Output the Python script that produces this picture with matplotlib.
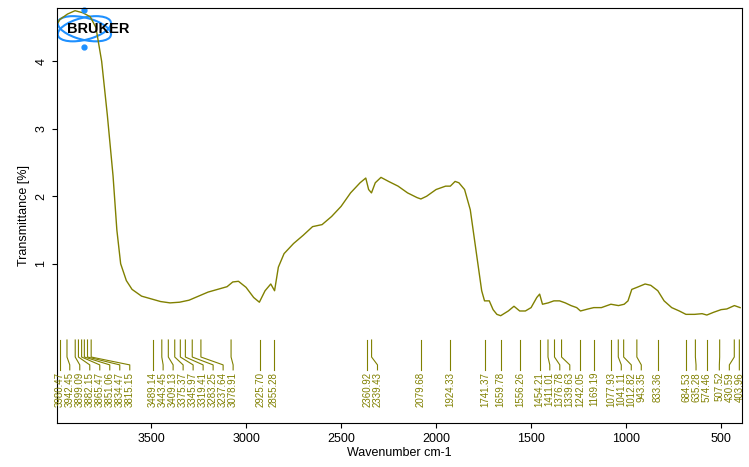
import matplotlib
matplotlib.use('Agg')
import matplotlib.pyplot as plt
import matplotlib.transforms as mtransforms
from matplotlib.patches import Ellipse
import numpy as np

# spectrum (wavenumber, transmittance)
wavenumber = [3995, 3980, 3940, 3900, 3860, 3820, 3790, 3760, 3730, 3700, 3680, 3660,
              3630, 3600, 3550, 3500, 3450, 3400, 3350, 3300, 3250, 3200, 3150, 3100,
              3070, 3040, 3000, 2960, 2930, 2900, 2870, 2850, 2830, 2800, 2750, 2700,
              2650, 2600, 2550, 2500, 2450, 2400, 2370, 2355, 2340, 2320, 2290, 2250,
              2200, 2150, 2100, 2080, 2050, 2000, 1950, 1925, 1900, 1880, 1850, 1820,
              1790, 1760, 1745, 1720, 1700, 1680, 1660, 1620, 1590, 1560, 1530, 1500,
              1470, 1455, 1440, 1410, 1380, 1350, 1320, 1290, 1260, 1240, 1200, 1170,
              1130, 1080, 1040, 1010, 990, 970, 943, 900, 870, 833, 800, 760, 720, 685,
              640, 600, 575, 540, 500, 470, 430, 400]
transmittance = [4.55, 4.62, 4.7, 4.75, 4.72, 4.66, 4.5, 4.0, 3.2, 2.3, 1.5, 1.0,
                 0.75, 0.62, 0.52, 0.48, 0.44, 0.42, 0.43, 0.46, 0.52, 0.58, 0.62, 0.66,
                 0.73, 0.74, 0.65, 0.5, 0.43, 0.6, 0.7, 0.6, 0.95, 1.15, 1.3, 1.42,
                 1.55, 1.58, 1.7, 1.85, 2.05, 2.2, 2.27, 2.1, 2.05, 2.2, 2.28, 2.22,
                 2.15, 2.05, 1.98, 1.96, 2.0, 2.1, 2.15, 2.15, 2.22, 2.2, 2.1, 1.8,
                 1.2, 0.6, 0.45, 0.45, 0.32, 0.25, 0.23, 0.3, 0.37, 0.3, 0.3, 0.35,
                 0.5, 0.55, 0.4, 0.42, 0.45, 0.45, 0.42, 0.38, 0.35, 0.3, 0.33, 0.35,
                 0.35, 0.4, 0.38, 0.4, 0.45, 0.62, 0.65, 0.7, 0.68, 0.6, 0.45, 0.35, 0.3, 0.25,
                 0.25, 0.26, 0.24, 0.28, 0.32, 0.33, 0.38, 0.35]

peaks = [3980.47, 3942.45, 3899.09, 3882.15, 3865.47, 3851.06, 3834.47, 3815.15,
         3489.14, 3443.45, 3409.13, 3375.37, 3345.97, 3319.41, 3283.25, 3237.64,
         3078.91, 2925.70, 2855.28, 2360.92, 2339.43, 2079.68, 1924.33, 1741.37,
         1659.78, 1556.26, 1454.21, 1411.01, 1376.78, 1339.63, 1242.05, 1169.19,
         1077.93, 1041.11, 1012.82, 943.35, 833.36, 684.53, 635.28, 574.46,
         507.52, 430.59, 403.96]

OLIVE = '#808000'
BLUE = '#1e90ff'
plt.rcParams['font.family'] = ['Liberation Sans', 'DejaVu Sans']

fig = plt.figure(figsize=(7.49, 4.67), dpi=100)
ax = fig.add_axes([57 / 749, 44 / 467, 685 / 749, 415 / 467])
ax.plot(wavenumber, transmittance, color=OLIVE, lw=1)
ax.set_xlim(3995, 390)
ax.set_ylim(-1.36, 4.79)
ax.set_xticks([3500, 3000, 2500, 2000, 1500, 1000, 500])
ax.set_yticks([1, 2, 3, 4])
ax.tick_params(labelsize=9)
for lab in ax.get_yticklabels():
    lab.set_rotation(90)
    lab.set_va('center')
ax.set_xlabel('Wavenumber cm-1', fontsize=9, labelpad=2)
ax.set_ylabel('Transmittance [%]', fontsize=9)

# peak labels, spread so they don't overlap
trans = mtransforms.blended_transform_factory(ax.transData, ax.transAxes)
spacing = 10 / 0.19
pos = list(peaks)
for i in range(1, len(pos)):
    pos[i] = min(pos[i], pos[i - 1] - spacing)
lim = 404
for i in range(len(pos) - 1, -1, -1):
    pos[i] = max(pos[i], lim)
    lim = pos[i] + spacing
for p, q in zip(peaks, pos):
    ax.plot([p, p, q, q], [0.2, 0.159, 0.14, 0.128], transform=trans,
            color=OLIVE, lw=0.8)
    ax.text(q, 0.123, '%.2f' % p, transform=trans, rotation=90, ha='center',
            va='top', fontsize=7, color=OLIVE)

# Bruker logo
for ang in (30, -30):
    ax.add_patch(Ellipse((0.04, 0.95), 0.085, 0.05, angle=ang,
                         transform=ax.transAxes, fill=False,
                         edgecolor=BLUE, lw=1.5))
ax.plot([0.04, 0.04], [0.995, 0.905], 'o', color=BLUE, ms=3.5,
        transform=ax.transAxes, clip_on=False)
ax.text(0.06, 0.95, 'BRUKER', transform=ax.transAxes, ha='center', va='center',
        fontsize=10.5, fontweight='bold', color='black')

fig.savefig('out.png', dpi=100)
